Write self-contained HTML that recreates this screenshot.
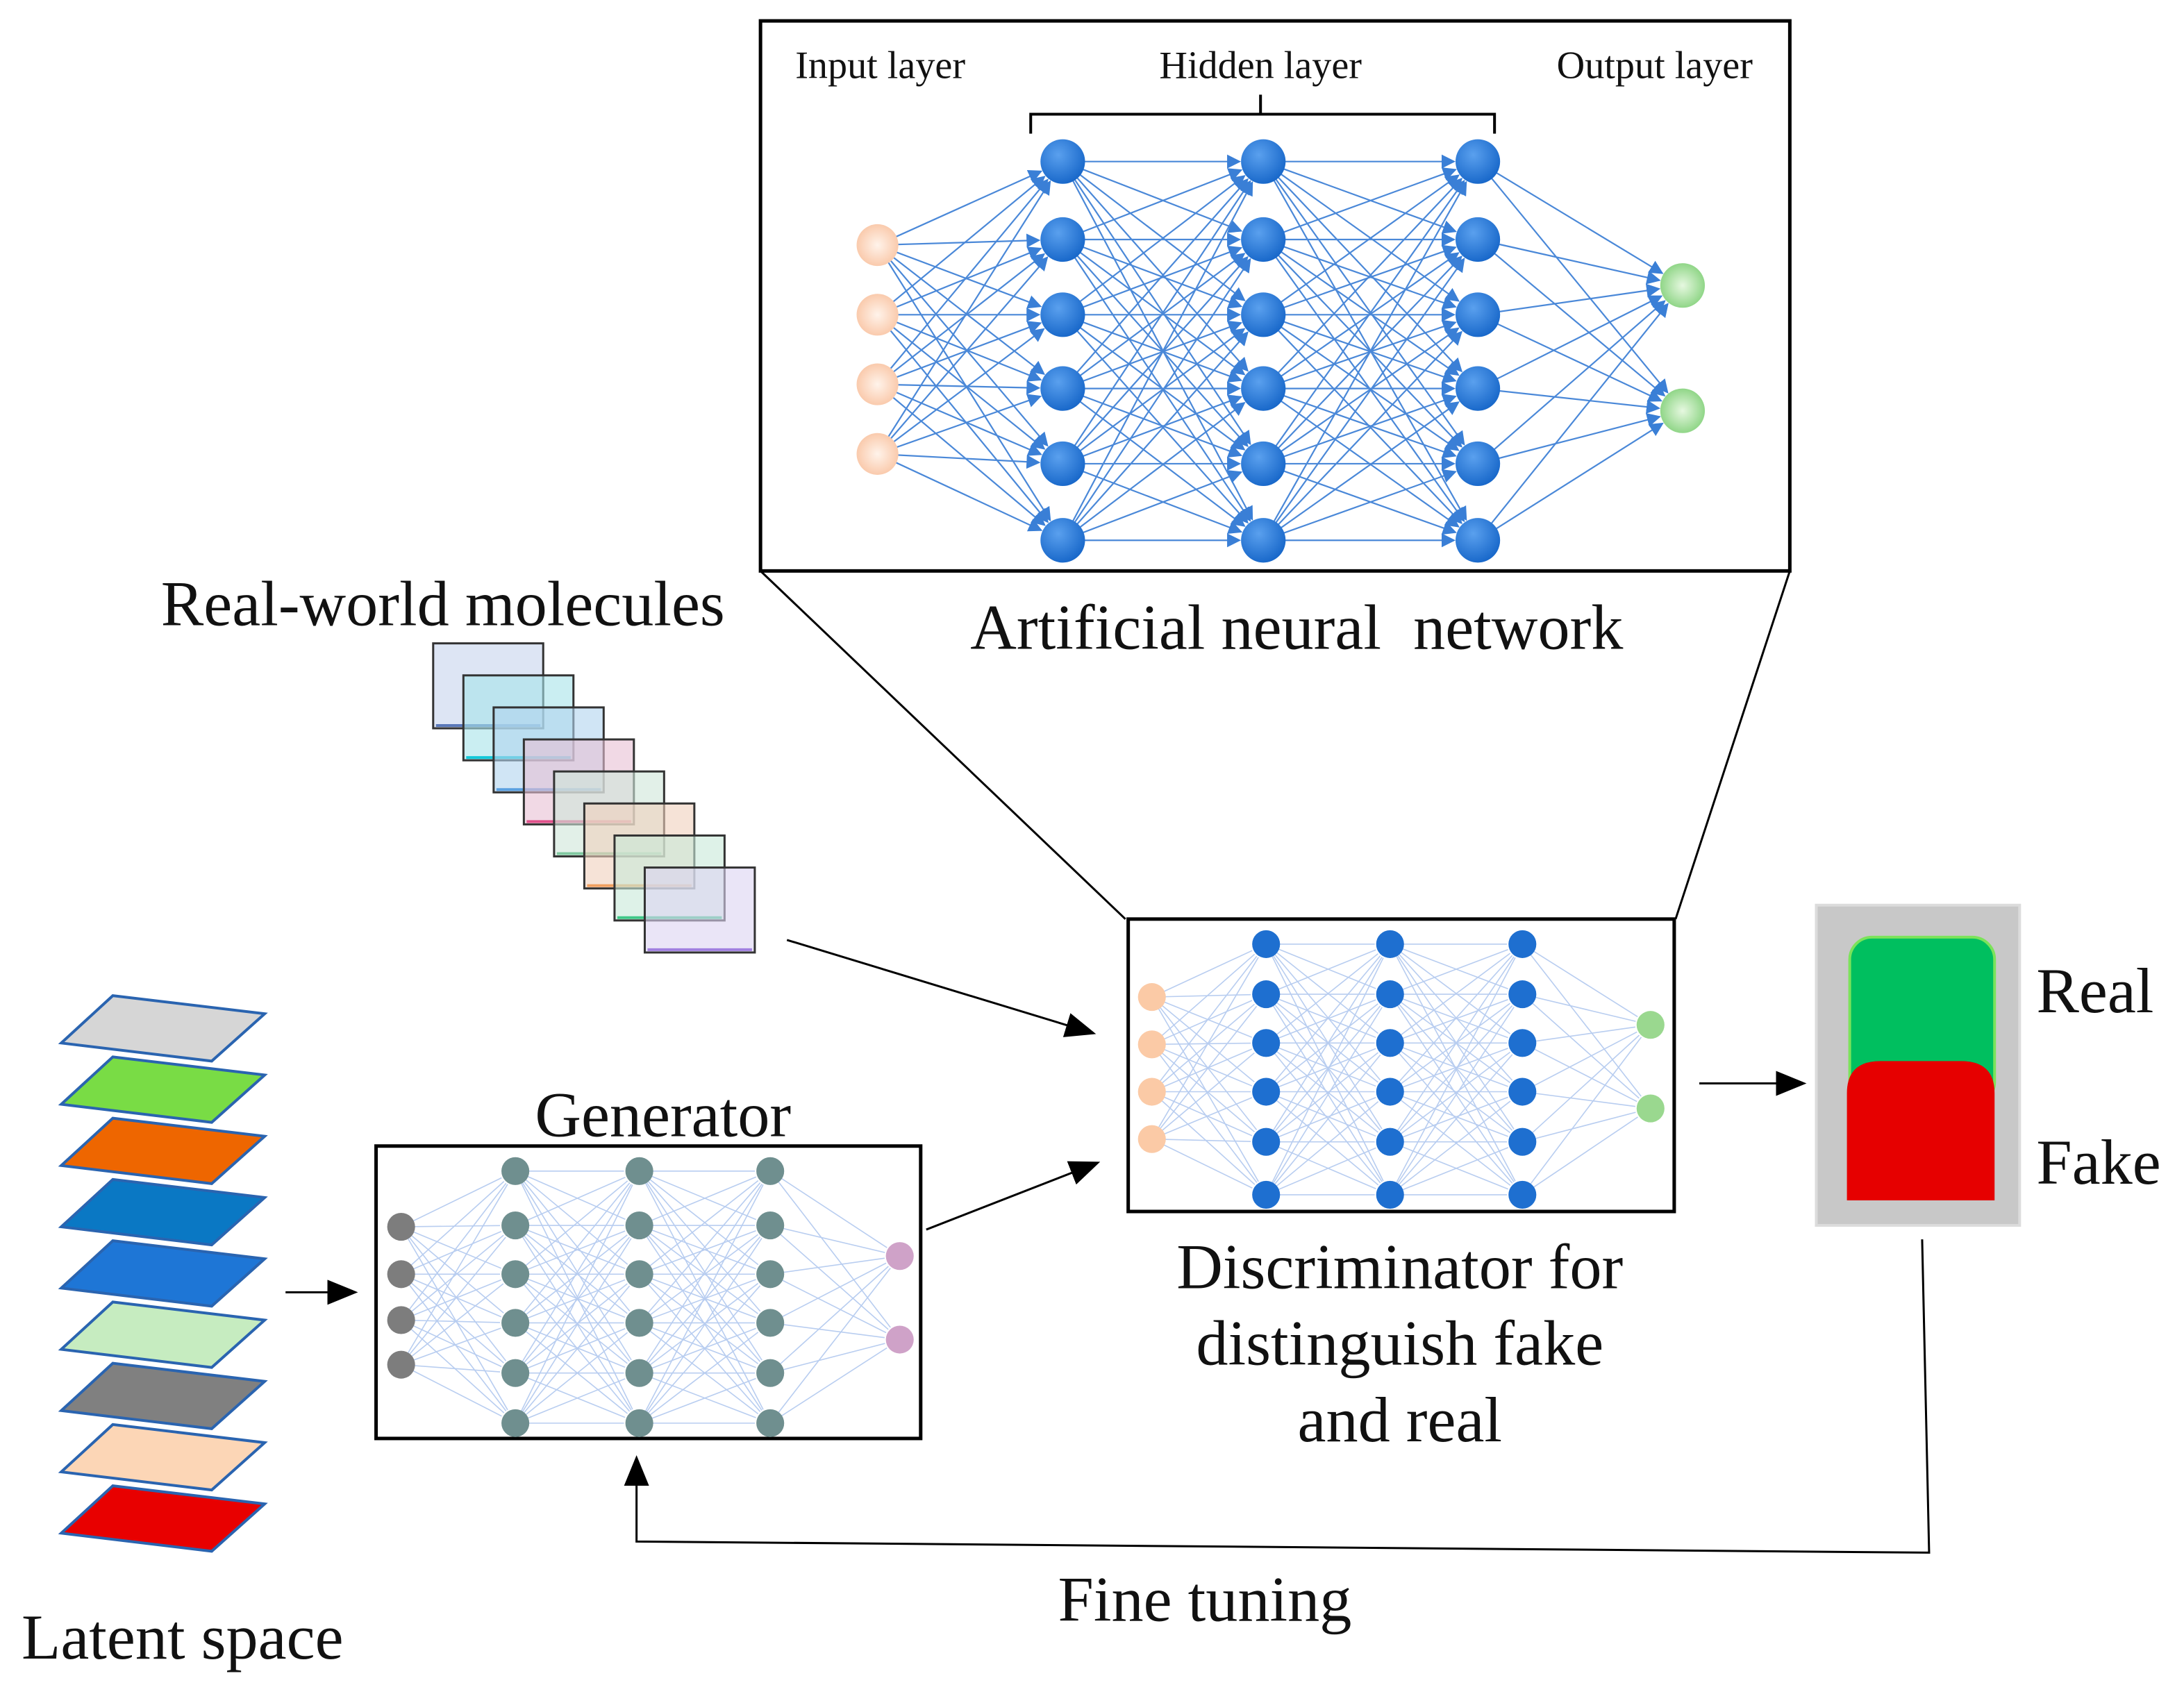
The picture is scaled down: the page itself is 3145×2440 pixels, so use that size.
<!DOCTYPE html>
<html><head><meta charset="utf-8">
<style>html,body{margin:0;padding:0;background:#fff}svg{display:block}
text{font-family:"Liberation Serif",serif;fill:#111}</style></head>
<body>
<svg id="s" width="3145" height="2440" viewBox="0 0 1568 1216.5" xmlns="http://www.w3.org/2000/svg">
<defs>
<marker id="ah" markerWidth="10" markerHeight="10" refX="9" refY="5" orient="auto" markerUnits="userSpaceOnUse"><path d="M0,0 L10,5 L0,10 z" fill="#3a7fd6"/></marker>
<marker id="bk" markerWidth="22" markerHeight="18" refX="20" refY="9" orient="auto" markerUnits="userSpaceOnUse"><path d="M0,0 L22,9 L0,18 z" fill="#000"/></marker>
<radialGradient id="gb" cx="0.4" cy="0.35" r="0.7"><stop offset="0" stop-color="#5aa0ee"/><stop offset="1" stop-color="#1565c8"/></radialGradient>
<radialGradient id="gp" cx="0.5" cy="0.5" r="0.6"><stop offset="0" stop-color="#fff3ea"/><stop offset="1" stop-color="#f9c2a0"/></radialGradient>
<radialGradient id="gg" cx="0.5" cy="0.5" r="0.6"><stop offset="0" stop-color="#e6f8e0"/><stop offset="1" stop-color="#7fcf76"/></radialGradient>
</defs>
<g id="top"></g>
<rect x="546" y="15" width="739" height="395" fill="none" stroke="#000" stroke-width="2.5"/>
<text x="632" y="56" font-size="28" text-anchor="middle">Input layer</text>
<text x="905" y="56" font-size="28" text-anchor="middle">Hidden layer</text>
<text x="1188" y="56" font-size="28" text-anchor="middle">Output layer</text>
<path d="M740,96 L740,82 L905,82 L905,68 M905,82 L1073,82 L1073,96" fill="none" stroke="#000" stroke-width="2"/>
<text x="931" y="466" font-size="46" text-anchor="middle">Artificial neural&#160; network</text>
<line x1="546" y1="410" x2="808" y2="660" stroke="#000" stroke-width="1.5"/>
<line x1="1285" y1="410" x2="1203" y2="660" stroke="#000" stroke-width="1.5"/>
<text x="318" y="449" font-size="46" text-anchor="middle">Real-world molecules</text>
<g id="mol"></g>
<line x1="565" y1="675" x2="785" y2="742" stroke="#000" stroke-width="1.5" marker-end="url(#bk)"/>
<rect x="810" y="660" width="392" height="210" fill="#fff" stroke="#000" stroke-width="2.5"/>
<g id="dis"></g>
<text x="476" y="816" font-size="46" text-anchor="middle">Generator</text>
<rect x="270" y="823" width="391" height="210" fill="#fff" stroke="#000" stroke-width="2.5"/>
<g id="gen"></g>
<line x1="665" y1="883" x2="788" y2="835" stroke="#000" stroke-width="1.5" marker-end="url(#bk)"/>
<g id="lat"></g>
<line x1="205" y1="928" x2="255" y2="928" stroke="#000" stroke-width="1.5" marker-end="url(#bk)"/>
<text x="131" y="1191" font-size="46" text-anchor="middle">Latent space</text>
<line x1="1220" y1="778" x2="1295" y2="778" stroke="#000" stroke-width="1.5" marker-end="url(#bk)"/>
<rect x="1304" y="650" width="146" height="230" fill="#c8c8c8" stroke="#dcdcdc" stroke-width="2"/>
<rect x="1328" y="673" width="104" height="120" rx="16" fill="#00bf5f" stroke="#7be35a" stroke-width="2"/>
<path d="M1326,862 L1326,785 Q1326,762 1350,762 L1408,762 Q1432,762 1432,785 L1432,862 z" fill="#e60000"/>
<text x="1462" y="727" font-size="46">Real</text>
<text x="1462" y="850" font-size="46">Fake</text>
<text x="1005" y="925" font-size="46" text-anchor="middle">Discriminator for</text>
<text x="1005" y="980" font-size="46" text-anchor="middle">distinguish fake</text>
<text x="1005" y="1035" font-size="46" text-anchor="middle">and real</text>
<polyline points="1380,890 1385,1115 457,1107 457,1047" fill="none" stroke="#000" stroke-width="1.5" marker-end="url(#bk)"/>
<text x="865" y="1164" font-size="46" text-anchor="middle">Fine tuning</text>
</svg>
<script>
var NS="http://www.w3.org/2000/svg";
function el(p,t,a){var e=document.createElementNS(NS,t);for(var k in a)e.setAttribute(k,a[k]);p.appendChild(e);return e;}
function net(g,layers,col,w,arrow,fills,r){
 for(var i=0;i<layers.length-1;i++){var A=layers[i],B=layers[i+1];
  A.ys.forEach(function(y1){B.ys.forEach(function(y2){
   var dx=B.x-A.x,dy=y2-y1,L=Math.sqrt(dx*dx+dy*dy),rr=r[i+1]+1;
   var a={x1:A.x,y1:y1,x2:B.x-dx/L*rr,y2:y2-dy/L*rr,stroke:col,"stroke-width":w};
   if(arrow)a["marker-end"]="url(#ah)";el(g,"line",a);});});}
 layers.forEach(function(L,i){L.ys.forEach(function(y){el(g,"circle",{cx:L.x,cy:y,r:r[i],fill:fills[i]});});});
}
var hy=[116,172,226,279,333,388];
net(document.getElementById("top"),[{x:630,ys:[176,226,276,326]},{x:763,ys:hy},{x:907,ys:hy},{x:1061,ys:hy},{x:1208,ys:[205,295]}],"#4a88d8",1.1,true,["url(#gp)","url(#gb)","url(#gb)","url(#gb)","url(#gg)"],[15,16,16,16,16]);
var dy=[678,714,749,784,820,858];
net(document.getElementById("dis"),[{x:827,ys:[716,750,784,818]},{x:909,ys:dy},{x:998,ys:dy},{x:1093,ys:dy},{x:1185,ys:[736,796]}],"#b8cdf0",0.8,false,["#fbcaa6","#1e6fd0","#1e6fd0","#1e6fd0","#9ad88f"],[10,10,10,10,10]);
var gy=[841,880,915,950,986,1022];
net(document.getElementById("gen"),[{x:288,ys:[881,915,948,980]},{x:370,ys:gy},{x:459,ys:gy},{x:553,ys:gy},{x:646,ys:[902,962]}],"#b8cdf0",0.8,false,["#7d7d7d","#6f8f8f","#6f8f8f","#6f8f8f","#cfa2c8"],[10,10,10,10,10]);
var mc=[["#c7d4ec","#5a78b8"],["#a6e2ea","#12c8d8"],["#b0d4ee","#5aa0e0"],["#e8c0d4","#e0508a"],["#cfe6d8","#80c8a0"],["#f0d0bc","#f0a060"],["#c8ead8","#40c888"],["#dcd4f2","#a080e0"]];
var mg=document.getElementById("mol");
mc.forEach(function(c,i){var x=311+i*21.7,y=462+i*23;
 el(mg,"rect",{x:x,y:y,width:79,height:61,fill:c[0],"fill-opacity":0.6,stroke:"#333","stroke-width":1.5});
 el(mg,"line",{x1:x+2,y1:y+59,x2:x+77,y2:y+59,stroke:c[1],"stroke-width":2});});
var lc=["#d6d6d6","#79dc45","#ee6600","#0a78c4","#1e76d6","#c6ecc0","#808080","#fcd6b6","#e80000"];
var lg=document.getElementById("lat");
lc.forEach(function(c,i){var o=i*44;
 el(lg,"polygon",{points:"81,"+(715+o)+" 190,"+(728+o)+" 152,"+(762+o)+" 44,"+(749+o),fill:c,stroke:"#2a64b0","stroke-width":2});});
</script>
</body></html>
